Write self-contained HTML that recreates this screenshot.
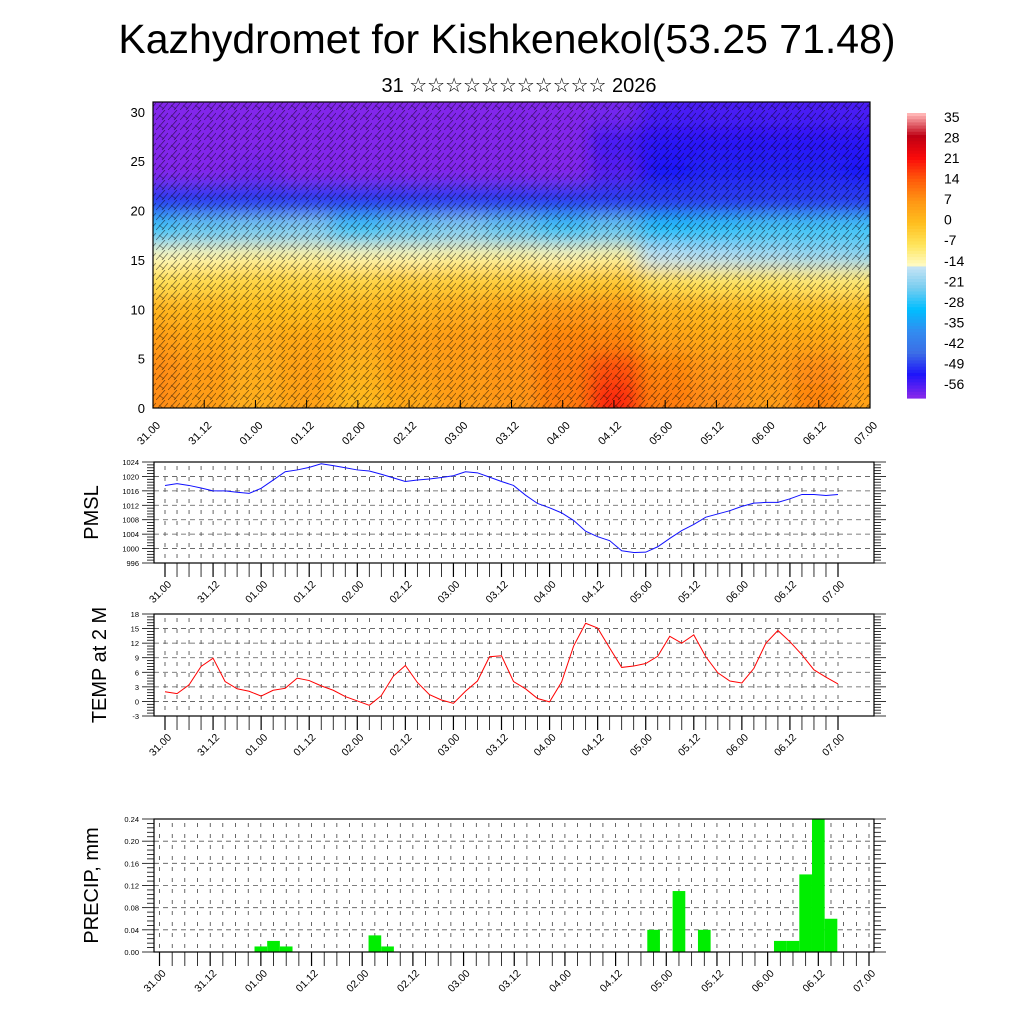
<!DOCTYPE html>
<html><head><meta charset="utf-8"><style>
html,body{margin:0;padding:0;background:#fff;}
svg{display:block;font-family:"Liberation Sans",sans-serif;}
</style></head><body>
<svg id="root" width="1024" height="1024" viewBox="0 0 1024 1024">
<defs>
<filter id="blur" x="-10%" y="-10%" width="120%" height="120%"><feGaussianBlur stdDeviation="9" edgeMode="duplicate"/></filter>
<clipPath id="topclip"><rect x="153" y="102" width="717" height="306"/></clipPath>
<pattern id="barbs" width="12" height="10" patternUnits="userSpaceOnUse">
<path d="M0 10 L9 0 M6 10 L12 3 M3 5 L8 9" stroke="#000" stroke-width="0.7" fill="none"/>
</pattern>
</defs>
<text x="507" y="53" font-size="41" text-anchor="middle">Kazhydromet for Kishkenekol(53.25 71.48)</text>
<text x="519" y="92" font-size="20" text-anchor="middle" font-family="Liberation Sans, DejaVu Sans, sans-serif">31 ☆☆☆☆☆☆☆☆☆☆☆ 2026</text>
<g id="top"></g>
<g id="cbar"></g>
<g id="pmsl"></g>
<g id="temp"></g>
<g id="prec"></g>
</svg>
<script>
const NS="http://www.w3.org/2000/svg";
const timeLabels=["31.00","31.12","01.00","01.12","02.00","02.12","03.00","03.12","04.00","04.12","05.00","05.12","06.00","06.12","07.00"];
const heights=[1,4,7,10,13,15.5,17.5,21.5,24,27,30];
const field=[
[8,6,3,5,1,4,6,7,10,18,10,8,6,9,5],
[8,6,3,5,2,5,6,7,10,15,9,7,6,8,5],
[6,4,3,4,3,5,6,7,9,9,5,4,4,4,3],
[2,1,0,0,1,2,3,4,6,6,2,1,0,0,0],
[-6,-5,-4,-4,-4,-3,-3,-3,-3,-2,-6,-7,-7,-8,-8],
[-13,-12,-11,-11,-12,-12,-11,-11,-12,-11,-15,-16,-17,-18,-19],
[-24,-22,-21,-20,-24,-22,-20,-22,-24,-22,-26,-25,-24,-24,-24],
[-46,-46,-46,-46,-46,-46,-46,-46,-46,-46,-46,-46,-46,-46,-46],
[-56,-56,-55,-56,-56,-56,-56,-56,-56,-53,-49,-48,-48,-48,-49],
[-56,-56,-56,-56,-56,-56,-56,-56,-56,-52,-50,-50,-50,-50,-50],
[-56,-56,-56,-56,-56,-56,-56,-56,-56,-55,-52,-52,-52,-52,-52]];
const cbarLabels=["35","28","21","14","7","0","-7","-14","-21","-28","-35","-42","-49","-56"];
const pmsl=[1017.5,1018,1017.5,1016.8,1016,1016,1015.6,1015.3,1016.7,1019,1021.3,1021.8,1022.5,1023.5,1023,1022.4,1021.8,1021.5,1020.6,1019.6,1018.6,1019,1019.3,1019.7,1020.2,1021.3,1021,1019.8,1018.6,1017.5,1014.8,1012.5,1011.3,1009.9,1007.8,1004.8,1003.3,1002.2,999.4,998.9,999,1000.5,1002.8,1005,1006.7,1008.7,1009.6,1010.5,1011.7,1012.6,1012.8,1012.8,1013.8,1015,1015,1014.7,1015];
const temp=[2.0,1.6,3.4,7.2,8.9,4.1,2.6,2.1,1.1,2.3,2.7,4.8,4.3,3.2,2.3,1.0,0.1,-0.8,1.2,5.2,7.4,3.9,1.4,0.3,-0.4,2.1,4.2,9.2,9.4,4.1,2.6,0.6,-0.1,4.0,11.4,16.1,15.1,11,7,7.3,7.8,9.3,13.4,12,13.7,9.2,5.9,4.2,3.8,6.8,12,14.6,12.3,9.6,6.5,5.0,3.6];
const precipIdx=[8,9,10,17,18,39,41,43,49,50,51,52,53];
const precipVal=[0.01,0.02,0.01,0.03,0.01,0.04,0.11,0.04,0.02,0.02,0.14,0.24,0.06];
const pmslTicks=[996,1000,1004,1008,1012,1016,1020,1024];
const tempTicks=[-3,0,3,6,9,12,15,18];
const precTicks=[0,0.04,0.08,0.12,0.16,0.20,0.24];

function el(tag,attrs,parent){const e=document.createElementNS(NS,tag);for(const k in attrs)e.setAttribute(k,attrs[k]);if(parent)parent.appendChild(e);return e;}
const stops=[[-60,[138,43,226]],[-56,[130,40,235]],[-49,[30,20,250]],[-42,[60,110,230]],[-35,[50,140,240]],[-28,[0,190,255]],[-21,[120,205,240]],[-14.01,[200,228,245]],[-14,[255,252,200]],[-7,[255,228,90]],[0,[255,190,30]],[7,[255,150,20]],[14,[255,90,10]],[21,[250,10,10]],[28,[190,0,20]],[35,[255,180,180]]];
function cmap(v){if(v<=stops[0][0])return rgb(stops[0][1]);for(let i=1;i<stops.length;i++){if(v<=stops[i][0]){const a=stops[i-1],b=stops[i];const t=(v-a[0])/(b[0]-a[0]);return rgb(a[1].map((c,j)=>c+(b[1][j]-c)*t));}}return rgb(stops[stops.length-1][1]);}
function rgb(c){return "rgb("+c.map(Math.round).join(",")+")";}

(function(){
const g=document.getElementById('top');
const X0=153,X1=870,Y0=408,Y1=102;
const xs=i=>X0+(X1-X0)*i/14;
const ys=h=>Y0-(Y0-Y1)*h/31;
const cg=el('g',{'clip-path':'url(#topclip)'},g);
const fg=el('g',{filter:'url(#blur)'},cg);
const bounds=heights.map((h,r)=>[r==0?-2:(h+heights[r-1])/2, r==heights.length-1?33:(h+heights[r+1])/2]);
field.forEach((row,r)=>row.forEach((v,c)=>{
 const x0=c==0?X0-30:(xs(c)+xs(c-1))/2, x1=c==14?X1+30:(xs(c)+xs(c+1))/2;
 const c1=el('rect',{x:x0,y:ys(bounds[r][1]),width:x1-x0+0.5,height:ys(bounds[r][0])-ys(bounds[r][1])+0.5,fill:cmap(v)},fg);
 
 
}));
const b=el('rect',{x:X0,y:Y1,width:X1-X0,height:Y0-Y1,fill:'url(#barbs)',opacity:0.55},cg);


el('rect',{x:X0,y:Y1,width:X1-X0,height:Y0-Y1,fill:'none',stroke:'#000','stroke-width':1.2},g);
[0,5,10,15,20,25,30].forEach(h=>{
 const t=el('text',{x:X0-8,y:ys(h)+5,'font-size':13,'text-anchor':'end'},g);t.textContent=h;
 
 
});
timeLabels.forEach((l,i)=>{
 el('line',{x1:xs(i),x2:xs(i),y1:Y0,y2:Y0-8,stroke:'#000'},g);
 const t=el('text',{x:xs(i)+8,y:Y0+18,'font-size':11,'text-anchor':'end',transform:`rotate(-45 ${xs(i)+8} ${Y0+18})`},g);t.textContent=l;
 
 
});
})();
(function(){
const g=document.getElementById('cbar');
const X=907,W=19,T=113,B=398;
for(let k=0;k<=90;k++){const v=35-k*(91/90);const y=T+(B-T)*k/91;el('rect',{x:X,y:y,width:W,height:(B-T)/91+0.6,fill:cmap(v)},g);}
cbarLabels.forEach((l,i)=>{const t=el('text',{x:944,y:122+i*((389-122)/13),'font-size':14},g);t.textContent=l;
 
 });
})();
function panel(id,opt){
 const g=document.getElementById(id);
 const L=154,R=874,T=opt.top,B=opt.bottom;
 const xs=i=>opt.x0+(opt.x1-opt.x0)*i/56;
 const ys=v=>B-(B-T)*(v-opt.min)/(opt.max-opt.min);
 for(let i=0;i<=56;i++){const x=xs(i);if(x<L||x>R)continue;el('line',{x1:x,x2:x,y1:T,y2:B,stroke:'#000','stroke-width':0.6,'stroke-dasharray':'4 7','stroke-dashoffset':-4},g);}
 opt.ticks.forEach(v=>{el('line',{x1:L,x2:R,y1:ys(v),y2:ys(v),stroke:'#555','stroke-width':0.8,'stroke-dasharray':'5 4'},g);});
 if(opt.bars){opt.bars.idx.forEach((k,j)=>{const w=(opt.x1-opt.x0)/56;const r=el('rect',{x:xs(k)-w/2,y:ys(opt.bars.val[j]),width:w,height:B-ys(opt.bars.val[j]),fill:'#00ee00'},g);
  
  });}
 if(opt.line){const p=el('polyline',{points:opt.line.map((v,i)=>xs(i)+','+ys(v)).join(' '),fill:'none',stroke:opt.color,'stroke-width':1},g);
  
  }
 el('rect',{x:L,y:T,width:R-L,height:B-T,fill:'none',stroke:'#000','stroke-width':1.2},g);
 const minor=(opt.ticks[1]-opt.ticks[0])/5;
 for(let v=opt.min;v<=opt.max+1e-9;v+=minor){const maj=Math.abs(((v-opt.min)/(minor*5))-Math.round((v-opt.min)/(minor*5)))<1e-6;const len=maj?12:7;
  el('line',{x1:L-len,x2:L,y1:ys(v),y2:ys(v),stroke:'#000','stroke-width':0.8},g);
  el('line',{x1:R,x2:R+len,y1:ys(v),y2:ys(v),stroke:'#000','stroke-width':0.8},g);}
 opt.ticks.forEach(v=>{const t=el('text',{x:L-15,y:ys(v)+3,'font-size':7.5,'text-anchor':'end'},g);t.textContent=opt.fmt(v);
  
  });
 for(let i=0;i<=56;i++){el('line',{x1:xs(i),x2:xs(i),y1:B,y2:B+14,stroke:'#000','stroke-width':i%4==0?1.2:0.8},g);}
 timeLabels.forEach((l,i)=>{const x=xs(i*4)+7,y=B+22;const t=el('text',{x:x,y:y,'font-size':10.5,'text-anchor':'end',transform:`rotate(-45 ${x} ${y})`},g);t.textContent=l;
  
  });
 const cy=(T+B)/2;const t=el('text',{x:opt.tx,y:cy,'font-size':20,'text-anchor':'middle',transform:`rotate(-90 ${opt.tx} ${cy})`},g);t.textContent=opt.title;
 
 
}
panel('pmsl',{top:462,bottom:563,min:996,max:1024,ticks:pmslTicks,x0:165,x1:838,line:pmsl,color:'#1010ff',fmt:v=>String(v),title:'PMSL',tx:98});
panel('temp',{top:614,bottom:716,min:-3,max:18,ticks:tempTicks,x0:165,x1:838,line:temp,color:'#ff0000',fmt:v=>String(v),title:'TEMP at 2 M',tx:106});
panel('prec',{top:819,bottom:952,min:0,max:0.24,ticks:precTicks,x0:159.5,x1:869,bars:{idx:precipIdx,val:precipVal},fmt:v=>v.toFixed(2),title:'PRECIP, mm',tx:98});
</script>
</body></html>
